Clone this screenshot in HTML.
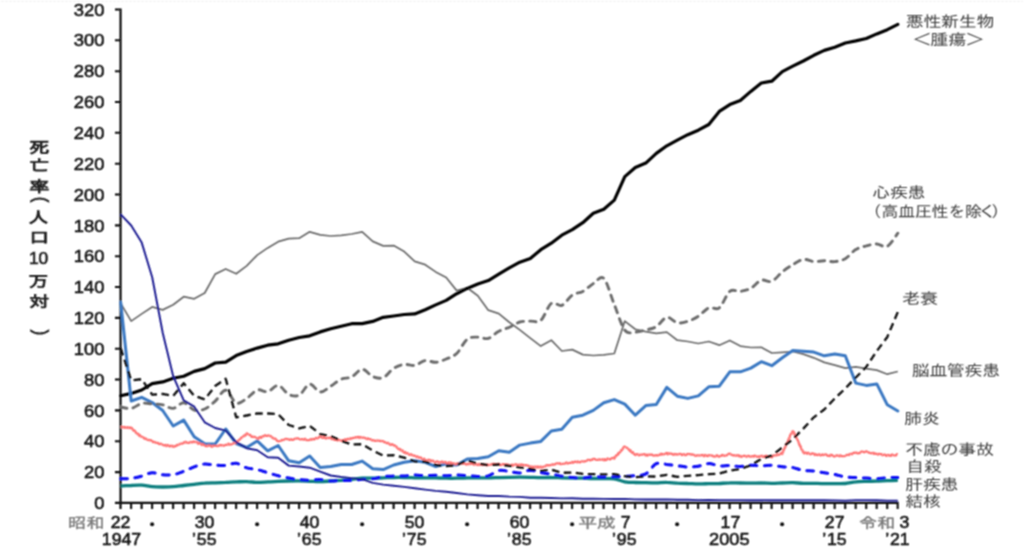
<!DOCTYPE html>
<html lang="ja"><head><meta charset="utf-8"><title>主な死因別にみた死亡率の年次推移</title>
<style>
html,body{margin:0;padding:0;background:#fff;}
body{width:1024px;height:549px;overflow:hidden;}
svg{display:block;}
.lat{font-family:"Liberation Sans", sans-serif;}
.cjk{font-family:"Liberation Sans", "IPAGothic", sans-serif;}
path{fill:none;stroke-linejoin:round;}
</style></head><body>
<svg width="1024" height="549" viewBox="0 0 1024 549">
<defs><filter id="bl" x="-5%" y="-5%" width="110%" height="110%"><feConvolveMatrix order="3" kernelMatrix="1 2 1 2 4 2 1 2 1" divisor="16" edgeMode="duplicate" preserveAlpha="false"/></filter></defs>
<rect width="1024" height="549" fill="#fff"/>
<g filter="url(#bl)">

<path d="M1,1.3 H1023" stroke="#f1f1f1" stroke-width="1" stroke-dasharray="2.9 1.1"/>
<path d="M120.55,8.5 V508.9 M114.95,502.9 H898.661 M114.95,502.9 H120.55 M114.95,472.1 H120.55 M114.95,441.2 H120.55 M114.95,410.4 H120.55 M114.95,379.5 H120.55 M114.95,348.7 H120.55 M114.95,317.9 H120.55 M114.95,287.0 H120.55 M114.95,256.2 H120.55 M114.95,225.4 H120.55 M114.95,194.5 H120.55 M114.95,163.7 H120.55 M114.95,132.8 H120.55 M114.95,102.0 H120.55 M114.95,71.2 H120.55 M114.95,40.3 H120.55 M114.95,9.5 H120.55 M120.5,502.9 V508.9 M131.1,502.9 V508.9 M141.6,502.9 V508.9 M152.1,502.9 V508.9 M162.6,502.9 V508.9 M173.1,502.9 V508.9 M183.6,502.9 V508.9 M194.1,502.9 V508.9 M204.6,502.9 V508.9 M215.1,502.9 V508.9 M225.6,502.9 V508.9 M236.1,502.9 V508.9 M246.6,502.9 V508.9 M257.1,502.9 V508.9 M267.6,502.9 V508.9 M278.1,502.9 V508.9 M288.6,502.9 V508.9 M299.1,502.9 V508.9 M309.6,502.9 V508.9 M320.1,502.9 V508.9 M330.6,502.9 V508.9 M341.1,502.9 V508.9 M351.6,502.9 V508.9 M362.1,502.9 V508.9 M372.6,502.9 V508.9 M383.1,502.9 V508.9 M393.6,502.9 V508.9 M404.1,502.9 V508.9 M414.6,502.9 V508.9 M425.1,502.9 V508.9 M435.6,502.9 V508.9 M446.1,502.9 V508.9 M456.6,502.9 V508.9 M467.1,502.9 V508.9 M477.6,502.9 V508.9 M488.1,502.9 V508.9 M498.6,502.9 V508.9 M509.1,502.9 V508.9 M519.6,502.9 V508.9 M530.1,502.9 V508.9 M540.6,502.9 V508.9 M551.1,502.9 V508.9 M561.6,502.9 V508.9 M572.1,502.9 V508.9 M582.6,502.9 V508.9 M593.1,502.9 V508.9 M603.6,502.9 V508.9 M614.1,502.9 V508.9 M624.6,502.9 V508.9 M635.1,502.9 V508.9 M645.6,502.9 V508.9 M656.1,502.9 V508.9 M666.6,502.9 V508.9 M677.1,502.9 V508.9 M687.6,502.9 V508.9 M698.1,502.9 V508.9 M708.6,502.9 V508.9 M719.1,502.9 V508.9 M729.6,502.9 V508.9 M740.1,502.9 V508.9 M750.6,502.9 V508.9 M761.1,502.9 V508.9 M771.6,502.9 V508.9 M782.1,502.9 V508.9 M792.6,502.9 V508.9 M803.1,502.9 V508.9 M813.6,502.9 V508.9 M824.2,502.9 V508.9 M834.7,502.9 V508.9 M845.2,502.9 V508.9 M855.7,502.9 V508.9 M866.2,502.9 V508.9 M876.7,502.9 V508.9 M887.2,502.9 V508.9 M897.7,502.9 V508.9" stroke="#0a0a0a" stroke-width="2.1"/>
<path d="M120.7,303.4 L131.2,321.1 L141.7,313.9 L152.2,306.9 L162.7,309.9 L173.2,304.8 L183.7,296.7 L194.2,298.8 L204.7,293.0 L215.2,274.1 L225.7,269.0 L236.2,273.8 L246.7,265.9 L257.2,255.1 L267.7,247.9 L278.2,241.7 L288.7,238.6 L299.2,238.2 L309.7,231.8 L320.2,234.9 L330.7,236.0 L341.2,235.4 L351.7,234.0 L362.2,231.8 L372.7,241.4 L383.2,245.9 L393.7,245.6 L404.2,251.6 L414.7,261.3 L425.2,264.7 L435.7,271.9 L446.2,277.5 L456.7,290.6 L467.2,287.8 L477.8,295.8 L488.3,310.2 L498.8,313.6 L509.3,322.2 L519.8,329.9 L530.3,338.1 L540.8,346.1 L551.3,340.2 L561.8,351.0 L572.3,349.6 L582.8,354.6 L593.3,355.5 L603.8,354.9 L614.3,353.5 L624.8,321.1 L635.3,329.3 L645.8,331.7 L656.3,333.3 L666.8,332.1 L677.3,340.2 L687.8,341.5 L698.3,343.5 L708.8,341.5 L719.3,345.2 L729.8,340.5 L740.3,346.1 L750.8,347.5 L761.3,347.3 L771.8,353.0 L782.3,352.3 L792.8,351.5 L803.3,354.1 L813.8,357.8 L824.3,362.4 L834.8,365.1 L845.3,368.1 L855.8,366.9 L866.3,368.6 L876.8,370.1 L887.3,374.2 L897.8,371.5" stroke="#6c6c6c" stroke-width="1.75"/>
<path d="M120.7,395.7 L131.2,393.4 L141.7,390.0 L152.2,383.6 L162.7,381.9 L173.2,378.2 L183.7,376.2 L194.2,371.4 L204.7,368.6 L215.2,363.0 L225.7,362.1 L236.2,355.6 L246.7,351.5 L257.2,348.1 L267.7,345.2 L278.2,343.8 L288.7,340.2 L299.2,337.5 L309.7,335.8 L320.2,331.9 L330.7,328.7 L341.2,326.2 L351.7,323.7 L362.2,323.6 L372.7,321.4 L383.2,317.3 L393.7,316.0 L404.2,314.5 L414.7,313.9 L425.2,309.7 L435.7,304.9 L446.2,300.4 L456.7,293.7 L467.2,288.4 L477.8,284.0 L488.3,280.6 L498.8,274.2 L509.3,267.8 L519.8,262.2 L530.3,258.5 L540.8,249.7 L551.3,243.2 L561.8,235.2 L572.3,229.7 L582.8,222.7 L593.3,213.3 L603.8,209.3 L614.3,200.1 L624.8,176.6 L635.3,167.5 L645.8,163.1 L656.3,153.4 L666.8,145.8 L677.3,140.2 L687.8,134.7 L698.3,130.2 L708.8,124.5 L719.3,111.4 L729.8,104.6 L740.3,100.5 L750.8,91.4 L761.3,83.0 L771.8,81.2 L782.3,71.6 L792.8,66.2 L803.3,61.0 L813.8,55.3 L824.3,50.4 L834.8,47.3 L845.3,43.0 L855.8,40.9 L866.3,38.5 L876.8,33.9 L887.3,29.7 L897.8,24.3" stroke="#000" stroke-width="3.2" stroke-linecap="round"/>
<path d="M120.7,302.3 L131.2,401.0 L141.7,397.3 L152.2,402.5 L162.7,410.5 L173.2,426.0 L183.7,420.1 L194.2,436.8 L204.7,443.7 L215.2,444.0 L225.7,429.0 L236.2,443.5 L246.7,447.5 L257.2,440.9 L267.7,450.8 L278.2,445.5 L288.7,460.8 L299.2,462.7 L309.7,456.0 L320.2,467.4 L330.7,466.5 L341.2,464.5 L351.7,464.5 L362.2,461.1 L372.7,468.8 L383.2,469.6 L393.7,465.0 L404.2,462.3 L414.7,460.7 L425.2,462.3 L435.7,466.5 L446.2,463.9 L456.7,465.0 L467.2,459.1 L477.8,458.5 L488.3,456.8 L498.8,450.8 L509.3,452.3 L519.8,445.1 L530.3,443.1 L540.8,441.4 L551.3,431.0 L561.8,429.2 L572.3,417.2 L582.8,415.2 L593.3,410.4 L603.8,402.7 L614.3,399.6 L624.8,404.1 L635.3,415.2 L645.8,405.6 L656.3,404.5 L666.8,387.4 L677.3,396.2 L687.8,398.4 L698.3,395.9 L708.8,386.8 L719.3,386.2 L729.8,371.8 L740.3,371.8 L750.8,368.1 L761.3,361.7 L771.8,365.7 L782.3,357.8 L792.8,350.4 L803.3,351.2 L813.8,352.1 L824.3,355.8 L834.8,354.1 L845.3,355.8 L855.8,383.1 L866.3,385.4 L876.8,383.9 L887.3,404.8 L897.8,411.0" stroke="#3b78c2" stroke-width="3.0" stroke-linecap="round"/>
<path d="M120.7,407.0 C122.5,407.2 127.7,409.0 131.2,408.4 C134.7,407.8 138.2,404.2 141.7,403.4 C145.2,402.7 148.7,403.7 152.2,403.9 C155.7,404.1 159.2,404.1 162.7,404.8 C166.2,405.6 169.7,408.7 173.2,408.4 C176.7,408.0 180.2,402.5 183.7,402.8 C187.2,403.1 190.7,409.0 194.2,410.1 C197.7,411.1 201.2,410.5 204.7,409.0 C208.2,407.5 211.7,404.3 215.2,401.1 C218.7,398.0 222.2,389.9 225.7,390.2 C229.2,390.5 232.7,401.6 236.2,403.0 C239.7,404.4 243.2,400.7 246.7,398.5 C250.2,396.4 253.7,391.2 257.2,390.0 C260.7,388.9 264.2,392.5 267.7,391.7 C271.2,391.0 274.7,385.0 278.2,385.4 C281.7,385.8 285.2,392.7 288.7,394.4 C292.2,396.0 295.7,396.8 299.2,395.1 C302.7,393.4 306.2,384.7 309.7,384.2 C313.2,383.7 316.7,391.7 320.2,392.0 C323.7,392.4 327.2,388.3 330.7,386.2 C334.2,384.0 337.7,380.8 341.2,379.2 C344.7,377.7 348.2,378.6 351.7,376.9 C355.2,375.3 358.7,369.3 362.2,369.2 C365.7,369.1 369.2,375.1 372.7,376.5 C376.2,377.9 379.7,379.1 383.2,377.7 C386.7,376.3 390.2,370.5 393.7,368.3 C397.2,366.1 400.7,364.9 404.2,364.4 C407.7,363.9 411.2,366.0 414.7,365.4 C418.2,364.7 421.7,361.1 425.2,360.6 C428.7,360.1 432.2,362.5 435.7,362.3 C439.2,362.0 442.7,360.5 446.2,359.0 C449.7,357.6 453.2,356.8 456.7,353.5 C460.2,350.2 463.7,341.9 467.2,339.2 C470.8,336.4 474.3,337.3 477.8,337.1 C481.3,337.0 484.8,339.4 488.3,338.4 C491.8,337.4 495.3,333.1 498.8,331.3 C502.3,329.4 505.8,328.8 509.3,327.3 C512.8,325.7 516.3,323.1 519.8,322.0 C523.3,321.0 526.8,321.4 530.3,321.1 C533.8,320.8 537.3,323.3 540.8,320.3 C544.3,317.4 547.8,305.9 551.3,303.4 C554.8,300.9 558.3,306.8 561.8,305.4 C565.3,304.0 568.8,297.4 572.3,295.1 C575.8,292.7 579.3,293.3 582.8,291.4 C586.3,289.4 589.8,285.8 593.3,283.6 C596.8,281.5 600.3,274.9 603.8,278.4 C607.3,281.9 610.8,296.0 614.3,304.6 C617.8,313.2 621.3,325.6 624.8,330.2 C628.3,334.8 631.8,332.1 635.3,332.1 C638.8,332.0 642.3,330.8 645.8,329.9 C649.3,329.0 652.8,328.8 656.3,326.7 C659.8,324.6 663.3,317.9 666.8,317.3 C670.3,316.6 673.8,322.1 677.3,322.8 C680.8,323.5 684.3,322.3 687.8,321.3 C691.3,320.2 694.8,318.6 698.3,316.3 C701.8,314.1 705.3,309.3 708.8,307.8 C712.3,306.4 715.8,310.6 719.3,307.8 C722.8,305.1 726.3,294.1 729.8,291.4 C733.3,288.6 736.8,291.9 740.3,291.4 C743.8,290.8 747.3,290.1 750.8,288.3 C754.3,286.4 757.8,281.4 761.3,280.2 C764.8,279.1 768.3,282.7 771.8,281.3 C775.3,279.9 778.8,274.7 782.3,271.9 C785.8,269.1 789.3,266.8 792.8,264.7 C796.3,262.6 799.8,259.9 803.3,259.4 C806.8,258.9 810.3,261.4 813.8,261.6 C817.3,261.8 820.8,260.8 824.3,260.8 C827.8,260.8 831.3,262.0 834.8,261.6 C838.3,261.2 841.8,260.7 845.3,258.7 C848.8,256.7 852.3,251.7 855.8,249.6 C859.3,247.4 862.8,246.8 866.3,245.9 C869.8,244.9 873.3,243.9 876.8,244.0 C880.3,244.1 883.8,248.1 887.3,246.3 C890.8,244.5 896.1,235.4 897.8,233.2" stroke="#6c6c6c" stroke-width="2.9" stroke-dasharray="6.300 6.237" stroke-linecap="round"/>
<path d="M120.7,485.9 C122.5,485.9 127.7,485.6 131.2,485.5 C134.7,485.3 138.2,485.0 141.7,485.2 C145.2,485.4 148.7,486.4 152.2,486.7 C155.7,487.0 159.2,487.0 162.7,487.0 C166.2,487.0 169.7,487.0 173.2,486.7 C176.7,486.5 180.2,485.9 183.7,485.5 C187.2,485.1 190.7,484.8 194.2,484.4 C197.7,484.0 201.2,483.4 204.7,483.2 C208.2,482.9 211.7,483.0 215.2,482.9 C218.7,482.7 222.2,482.5 225.7,482.4 C229.2,482.2 232.7,482.1 236.2,481.9 C239.7,481.8 243.2,481.5 246.7,481.6 C250.2,481.7 253.7,482.3 257.2,482.4 C260.7,482.4 264.2,482.1 267.7,481.9 C271.2,481.8 274.7,481.5 278.2,481.3 C281.7,481.2 285.2,481.1 288.7,481.0 C292.2,480.9 295.7,480.8 299.2,480.9 C302.7,480.9 306.2,481.2 309.7,481.3 C313.2,481.4 316.7,481.7 320.2,481.6 C323.7,481.6 327.2,481.2 330.7,481.0 C334.2,480.8 337.7,480.6 341.2,480.4 C344.7,480.1 348.2,479.8 351.7,479.5 C355.2,479.1 358.7,478.4 362.2,478.2 C365.7,478.0 369.2,478.3 372.7,478.2 C376.2,478.2 379.7,478.0 383.2,477.9 C386.7,477.8 390.2,477.5 393.7,477.5 C397.2,477.4 400.7,477.4 404.2,477.5 C407.7,477.5 411.2,477.7 414.7,477.8 C418.2,477.8 421.7,477.7 425.2,477.8 C428.7,477.8 432.2,477.8 435.7,477.9 C439.2,478.0 442.7,478.2 446.2,478.2 C449.7,478.3 453.2,478.3 456.7,478.2 C460.2,478.2 463.7,478.0 467.2,477.9 C470.8,477.8 474.3,477.8 477.8,477.8 C481.3,477.8 484.8,477.9 488.3,477.9 C491.8,477.9 495.3,477.7 498.8,477.6 C502.3,477.5 505.8,477.4 509.3,477.3 C512.8,477.2 516.3,477.2 519.8,477.2 C523.3,477.2 526.8,477.2 530.3,477.3 C533.8,477.4 537.3,477.6 540.8,477.6 C544.3,477.6 547.8,477.4 551.3,477.5 C554.8,477.5 558.3,477.7 561.8,477.8 C565.3,477.9 568.8,478.0 572.3,478.1 C575.8,478.2 579.3,478.2 582.8,478.2 C586.3,478.3 589.8,478.5 593.3,478.5 C596.8,478.6 600.3,478.6 603.8,478.7 C607.3,478.7 610.8,478.3 614.3,478.8 C617.8,479.4 621.3,481.2 624.8,481.8 C628.3,482.4 631.8,482.4 635.3,482.5 C638.8,482.7 642.3,482.6 645.8,482.7 C649.3,482.8 652.8,482.9 656.3,482.9 C659.8,482.8 663.3,482.3 666.8,482.4 C670.3,482.4 673.8,483.0 677.3,483.2 C680.8,483.3 684.3,483.3 687.8,483.5 C691.3,483.6 694.8,483.9 698.3,483.9 C701.8,484.0 705.3,483.7 708.8,483.6 C712.3,483.5 715.8,483.6 719.3,483.5 C722.8,483.3 726.3,482.9 729.8,482.9 C733.3,482.8 736.8,483.0 740.3,483.0 C743.8,483.1 747.3,483.2 750.8,483.2 C754.3,483.2 757.8,483.0 761.3,483.0 C764.8,483.0 768.3,483.3 771.8,483.3 C775.3,483.3 778.8,483.1 782.3,483.0 C785.8,482.9 789.3,482.6 792.8,482.7 C796.3,482.8 799.8,483.2 803.3,483.3 C806.8,483.4 810.3,483.3 813.8,483.3 C817.3,483.4 820.8,483.6 824.3,483.6 C827.8,483.7 831.3,483.7 834.8,483.6 C838.3,483.6 841.8,483.8 845.3,483.5 C848.8,483.2 852.3,482.1 855.8,481.8 C859.3,481.4 862.8,481.4 866.3,481.3 C869.8,481.2 873.3,481.3 876.8,481.2 C880.3,481.1 883.8,480.8 887.3,480.7 C890.8,480.6 896.1,480.4 897.8,480.4" stroke="#0b7f7f" stroke-width="3.3"/>
<path d="M120.7,478.7 C122.5,478.6 127.7,478.8 131.2,478.4 C134.7,477.9 138.2,477.0 141.7,476.1 C145.2,475.1 148.7,472.9 152.2,472.7 C155.7,472.5 159.2,474.5 162.7,474.8 C166.2,475.2 169.7,475.2 173.2,474.7 C176.7,474.1 180.2,472.8 183.7,471.4 C187.2,470.1 190.7,468.1 194.2,466.8 C197.7,465.6 201.2,464.3 204.7,464.0 C208.2,463.8 211.7,464.9 215.2,465.1 C218.7,465.4 222.2,465.7 225.7,465.4 C229.2,465.1 232.7,462.9 236.2,463.3 C239.7,463.7 243.2,466.8 246.7,467.9 C250.2,469.0 253.7,468.8 257.2,469.6 C260.7,470.4 264.2,471.7 267.7,472.7 C271.2,473.7 274.7,474.9 278.2,475.8 C281.7,476.7 285.2,477.4 288.7,478.1 C292.2,478.7 295.7,479.3 299.2,479.6 C302.7,480.0 306.2,480.3 309.7,480.2 C313.2,480.2 316.7,479.3 320.2,479.5 C323.7,479.6 327.2,480.8 330.7,481.0 C334.2,481.2 337.7,480.6 341.2,480.5 C344.7,480.5 348.2,480.7 351.7,480.5 C355.2,480.3 358.7,479.6 362.2,479.3 C365.7,479.0 369.2,479.3 372.7,478.8 C376.2,478.4 379.7,477.2 383.2,476.7 C386.7,476.2 390.2,476.2 393.7,476.1 C397.2,475.9 400.7,476.1 404.2,475.9 C407.7,475.8 411.2,475.2 414.7,475.1 C418.2,475.1 421.7,475.7 425.2,475.8 C428.7,475.8 432.2,475.3 435.7,475.3 C439.2,475.3 442.7,475.8 446.2,475.8 C449.7,475.7 453.2,475.2 456.7,475.1 C460.2,475.1 463.7,475.4 467.2,475.6 C470.8,475.8 474.3,476.5 477.8,476.5 C481.3,476.6 484.8,476.9 488.3,475.9 C491.8,474.9 495.3,471.3 498.8,470.5 C502.3,469.8 505.8,471.0 509.3,471.4 C512.8,471.9 516.3,473.2 519.8,473.0 C523.3,472.8 526.8,470.3 530.3,470.2 C533.8,470.2 537.3,472.0 540.8,472.7 C544.3,473.3 547.8,473.5 551.3,474.1 C554.8,474.7 558.3,475.6 561.8,476.2 C565.3,476.8 568.8,477.3 572.3,477.6 C575.8,477.9 579.3,478.2 582.8,478.1 C586.3,477.9 589.8,477.0 593.3,476.8 C596.8,476.7 600.3,477.3 603.8,477.3 C607.3,477.3 610.8,477.0 614.3,476.8 C617.8,476.7 621.3,476.6 624.8,476.4 C628.3,476.1 631.8,475.9 635.3,475.5 C638.8,475.0 642.3,475.9 645.8,473.9 C649.3,472.0 652.8,465.3 656.3,463.7 C659.8,462.1 663.3,464.0 666.8,464.4 C670.3,464.7 673.8,465.3 677.3,465.7 C680.8,466.2 684.3,466.9 687.8,467.0 C691.3,467.1 694.8,466.8 698.3,466.2 C701.8,465.6 705.3,463.6 708.8,463.6 C712.3,463.5 715.8,465.6 719.3,465.9 C722.8,466.2 726.3,465.5 729.8,465.6 C733.3,465.7 736.8,466.4 740.3,466.4 C743.8,466.3 747.3,465.4 750.8,465.3 C754.3,465.2 757.8,465.9 761.3,465.9 C764.8,465.9 768.3,465.1 771.8,465.3 C775.3,465.4 778.8,466.4 782.3,466.8 C785.8,467.2 789.3,467.0 792.8,467.6 C796.3,468.2 799.8,470.0 803.3,470.5 C806.8,471.1 810.3,470.6 813.8,471.0 C817.3,471.4 820.8,472.3 824.3,472.8 C827.8,473.4 831.3,473.7 834.8,474.4 C838.3,475.1 841.8,476.5 845.3,477.0 C848.8,477.5 852.3,477.4 855.8,477.6 C859.3,477.8 862.8,477.9 866.3,478.1 C869.8,478.3 873.3,478.8 876.8,478.7 C880.3,478.6 883.8,477.8 887.3,477.6 C890.8,477.4 896.1,477.5 897.8,477.5" stroke="#0808f4" stroke-width="3.0" stroke-dasharray="6.600 7.709" stroke-linecap="round"/>
<path d="M120.7,427.19 L121.7,427.04 L122.6,426.90 L123.6,427.70 L124.5,426.99 L125.5,427.73 L126.4,427.59 L127.4,427.26 L128.3,427.99 L129.3,427.43 L130.2,428.08 L131.2,427.67 L132.0,428.34 L132.7,429.44 L133.5,430.65 L134.2,430.30 L135.0,431.08 L135.7,432.28 L136.5,433.37 L137.2,433.49 L138.0,433.88 L138.7,435.33 L139.5,434.66 L140.2,436.44 L141.0,436.28 L141.7,436.72 L142.7,437.07 L143.6,437.73 L144.6,438.84 L145.5,438.34 L146.5,439.29 L147.4,439.76 L148.4,439.78 L149.3,440.42 L150.3,440.14 L151.2,440.52 L152.2,441.12 L153.2,442.07 L154.1,441.99 L155.1,442.11 L156.0,442.77 L157.0,442.87 L157.9,442.93 L158.9,443.91 L159.8,444.05 L160.8,443.70 L161.8,444.44 L162.7,444.65 L163.7,445.32 L164.6,445.30 L165.6,444.87 L166.5,446.02 L167.5,444.99 L168.4,445.59 L169.4,446.25 L170.3,445.59 L171.3,446.24 L172.3,445.79 L173.2,446.86 L174.2,446.61 L175.1,445.97 L176.1,446.01 L177.0,444.85 L178.0,445.00 L178.9,444.48 L179.9,444.08 L180.8,443.53 L181.8,443.69 L182.8,443.46 L183.7,442.42 L184.7,442.66 L185.6,441.79 L186.6,442.66 L187.5,442.55 L188.5,443.01 L189.4,442.74 L190.4,441.96 L191.3,442.07 L192.3,442.44 L193.3,441.51 L194.2,442.10 L195.2,441.98 L196.1,442.20 L197.1,442.41 L198.0,443.70 L199.0,443.10 L199.9,443.56 L200.9,444.06 L201.8,445.02 L202.8,444.21 L203.8,445.02 L204.7,445.46 L205.7,446.01 L206.6,446.00 L207.6,446.15 L208.5,445.41 L209.5,445.69 L210.4,445.69 L211.4,446.51 L212.3,446.70 L213.3,445.66 L214.3,445.77 L215.2,445.94 L216.2,445.80 L217.1,446.01 L218.1,446.02 L219.0,445.42 L220.0,444.92 L220.9,445.36 L221.9,445.15 L222.9,445.28 L223.8,445.69 L224.8,445.18 L225.7,444.79 L226.7,444.77 L227.6,444.68 L228.6,443.64 L229.5,444.66 L230.5,444.32 L231.4,444.29 L232.4,444.01 L233.4,443.27 L234.3,443.12 L235.3,442.53 L236.2,443.11 L237.0,441.66 L237.7,441.01 L238.5,440.56 L239.2,439.85 L240.0,439.45 L240.7,438.39 L241.5,437.67 L242.2,437.23 L243.0,436.51 L243.7,436.23 L244.5,435.11 L245.2,435.65 L246.0,434.63 L246.7,433.33 L247.6,433.87 L248.5,434.41 L249.3,434.83 L250.2,434.89 L251.1,436.30 L252.0,436.90 L252.8,436.56 L253.7,436.99 L254.6,436.83 L255.5,437.25 L256.3,437.98 L257.2,438.27 L258.2,438.73 L259.1,437.46 L260.1,436.93 L261.0,437.89 L262.0,436.96 L262.9,436.09 L263.9,436.31 L264.9,435.25 L265.8,435.61 L266.8,435.91 L267.7,435.41 L268.6,435.67 L269.5,435.54 L270.3,436.18 L271.2,436.39 L272.1,437.72 L273.0,437.88 L273.8,438.71 L274.7,438.57 L275.6,438.91 L276.5,440.22 L277.3,440.95 L278.2,441.26 L279.2,441.05 L280.1,440.93 L281.1,440.68 L282.0,439.82 L283.0,440.09 L284.0,439.72 L284.9,439.12 L285.9,438.98 L286.8,439.19 L287.8,439.02 L288.7,439.49 L289.7,439.82 L290.6,439.06 L291.6,439.71 L292.5,439.73 L293.5,439.65 L294.5,438.78 L295.4,438.53 L296.4,438.50 L297.3,438.42 L298.3,438.39 L299.2,438.93 L300.2,439.42 L301.1,439.43 L302.1,439.02 L303.0,439.36 L304.0,439.67 L305.0,438.76 L305.9,439.67 L306.9,440.12 L307.8,440.04 L308.8,440.09 L309.7,439.81 L310.7,439.13 L311.6,439.74 L312.6,438.84 L313.5,439.25 L314.5,439.24 L315.5,438.18 L316.4,437.93 L317.4,438.44 L318.3,437.88 L319.3,436.85 L320.2,436.54 L321.2,436.68 L322.1,437.85 L323.1,437.83 L324.0,437.01 L325.0,438.08 L326.0,438.41 L326.9,438.07 L327.9,437.75 L328.8,438.14 L329.8,437.67 L330.7,437.61 L331.7,439.19 L332.6,438.98 L333.6,439.05 L334.5,439.85 L335.5,439.39 L336.5,440.24 L337.4,440.42 L338.4,439.80 L339.3,440.09 L340.3,440.39 L341.2,440.55 L342.2,440.77 L343.1,440.05 L344.1,440.00 L345.1,439.33 L346.0,440.16 L347.0,439.11 L347.9,438.99 L348.9,438.90 L349.8,439.08 L350.8,438.14 L351.7,438.57 L352.7,437.93 L353.6,437.92 L354.6,437.85 L355.6,437.09 L356.5,437.62 L357.5,437.21 L358.4,436.90 L359.4,437.96 L360.3,437.02 L361.3,437.39 L362.2,437.68 L363.2,437.70 L364.1,437.63 L365.1,438.15 L366.1,438.46 L367.0,439.03 L368.0,438.33 L368.9,439.22 L369.9,439.04 L370.8,439.33 L371.8,440.27 L372.7,440.16 L373.7,440.32 L374.6,440.68 L375.6,440.97 L376.6,440.40 L377.5,440.72 L378.5,440.66 L379.4,440.75 L380.4,441.09 L381.3,440.83 L382.3,441.03 L383.2,441.04 L384.2,442.09 L385.1,442.16 L386.1,442.82 L387.1,443.31 L388.0,442.77 L389.0,443.59 L389.9,444.54 L390.9,444.80 L391.8,444.22 L392.8,444.61 L393.7,445.46 L394.6,445.48 L395.5,446.26 L396.4,446.56 L397.2,447.94 L398.1,448.64 L399.0,449.34 L399.9,448.84 L400.7,450.16 L401.6,450.62 L402.5,450.44 L403.4,452.01 L404.2,452.67 L405.2,452.00 L406.1,453.41 L407.1,453.01 L408.1,453.51 L409.0,454.60 L410.0,454.75 L410.9,454.19 L411.9,454.95 L412.8,455.45 L413.8,455.58 L414.7,455.75 L415.7,456.25 L416.7,457.14 L417.6,456.47 L418.6,457.55 L419.5,457.71 L420.5,457.44 L421.4,458.20 L422.4,458.93 L423.3,459.10 L424.3,458.79 L425.2,460.41 L426.2,460.31 L427.2,460.75 L428.1,459.72 L429.1,460.13 L430.0,459.99 L431.0,461.21 L431.9,460.68 L432.9,460.67 L433.8,461.26 L434.8,462.13 L435.7,462.18 L436.7,461.46 L437.7,461.38 L438.6,462.53 L439.6,462.11 L440.5,462.36 L441.5,461.58 L442.4,461.60 L443.4,462.56 L444.3,462.26 L445.3,461.83 L446.2,463.12 L447.2,462.82 L448.2,463.18 L449.1,462.30 L450.1,463.51 L451.0,462.53 L452.0,463.77 L452.9,463.32 L453.9,463.29 L454.8,463.71 L455.8,464.36 L456.7,463.56 L457.7,463.40 L458.7,463.98 L459.6,463.61 L460.6,463.46 L461.5,463.56 L462.5,463.43 L463.4,463.67 L464.4,463.85 L465.3,463.87 L466.3,464.53 L467.2,463.90 L468.2,464.23 L469.2,463.80 L470.1,464.07 L471.1,463.64 L472.0,463.99 L473.0,463.69 L473.9,464.72 L474.9,464.49 L475.8,464.02 L476.8,464.44 L477.8,465.12 L478.7,463.97 L479.7,464.98 L480.6,464.45 L481.6,464.56 L482.5,465.05 L483.5,464.44 L484.4,464.61 L485.4,464.88 L486.3,465.31 L487.3,464.43 L488.3,465.13 L489.2,464.92 L490.2,464.80 L491.1,464.44 L492.1,464.34 L493.0,463.90 L494.0,463.97 L494.9,463.86 L495.9,464.77 L496.8,464.07 L497.8,463.91 L498.8,463.77 L499.7,464.89 L500.7,464.98 L501.6,464.76 L502.6,464.27 L503.5,464.27 L504.5,464.40 L505.4,464.69 L506.4,464.32 L507.3,464.78 L508.3,464.58 L509.3,465.62 L510.2,465.63 L511.2,465.04 L512.1,464.61 L513.1,465.62 L514.0,464.70 L515.0,464.77 L515.9,464.27 L516.9,464.80 L517.8,464.93 L518.8,464.97 L519.8,464.55 L520.7,465.10 L521.7,464.53 L522.6,465.02 L523.6,464.90 L524.5,465.46 L525.5,465.08 L526.4,465.18 L527.4,465.70 L528.3,465.73 L529.3,466.35 L530.3,466.40 L531.2,466.78 L532.2,466.72 L533.1,466.87 L534.1,467.17 L535.0,466.55 L536.0,466.53 L536.9,467.53 L537.9,466.43 L538.9,467.30 L539.8,467.26 L540.8,466.49 L541.7,467.35 L542.7,467.17 L543.6,466.55 L544.6,466.45 L545.5,466.30 L546.5,465.11 L547.4,465.40 L548.4,465.12 L549.4,465.33 L550.3,465.03 L551.3,464.81 L552.2,464.41 L553.2,464.79 L554.1,464.44 L555.1,464.40 L556.0,463.69 L557.0,463.36 L557.9,463.45 L558.9,463.71 L559.9,463.29 L560.8,464.26 L561.8,463.82 L562.7,463.80 L563.7,463.69 L564.6,463.65 L565.6,463.27 L566.5,462.48 L567.5,463.48 L568.4,463.30 L569.4,462.84 L570.4,462.78 L571.3,462.84 L572.3,461.89 L573.2,462.74 L574.2,461.96 L575.1,461.61 L576.1,461.78 L577.0,462.33 L578.0,461.50 L578.9,462.15 L579.9,462.38 L580.9,461.61 L581.8,461.36 L582.8,461.39 L583.7,461.51 L584.7,461.46 L585.6,461.08 L586.6,460.95 L587.5,459.99 L588.5,459.92 L589.4,459.90 L590.4,460.42 L591.4,459.64 L592.3,459.84 L593.3,458.89 L594.2,458.97 L595.2,459.28 L596.1,459.86 L597.1,459.90 L598.0,459.89 L599.0,459.36 L600.0,459.69 L600.9,459.64 L601.9,459.65 L602.8,459.18 L603.8,460.28 L604.7,459.15 L605.7,460.09 L606.6,459.87 L607.6,458.43 L608.5,458.90 L609.5,459.25 L610.5,459.30 L611.4,458.42 L612.4,458.02 L613.3,457.78 L614.3,458.65 L614.9,456.91 L615.6,456.72 L616.2,455.39 L616.9,455.21 L617.6,455.10 L618.2,453.24 L618.9,453.49 L619.5,452.34 L620.2,452.15 L620.8,451.18 L621.5,449.81 L622.1,450.03 L622.8,448.74 L623.5,447.38 L624.1,446.64 L624.8,446.61 L625.6,447.16 L626.4,447.55 L627.2,447.93 L628.0,448.82 L628.8,449.39 L629.6,450.73 L630.4,450.16 L631.2,451.81 L632.0,452.54 L632.9,452.14 L633.7,453.87 L634.5,454.18 L635.3,455.05 L636.2,454.23 L637.2,454.39 L638.1,454.46 L639.1,455.35 L640.0,454.82 L641.0,454.54 L642.0,454.68 L642.9,454.51 L643.9,454.23 L644.8,454.35 L645.8,455.42 L646.7,454.65 L647.7,455.56 L648.6,454.60 L649.6,454.62 L650.5,454.96 L651.5,454.51 L652.5,454.77 L653.4,455.59 L654.4,455.48 L655.3,455.38 L656.3,455.13 L657.2,455.40 L658.2,455.31 L659.1,454.64 L660.1,454.75 L661.0,453.69 L662.0,454.52 L663.0,454.00 L663.9,454.29 L664.9,454.01 L665.8,453.39 L666.8,452.93 L667.7,454.24 L668.7,453.21 L669.6,453.77 L670.6,453.68 L671.6,453.70 L672.5,454.40 L673.5,454.81 L674.4,453.90 L675.4,454.53 L676.3,454.12 L677.3,454.56 L678.2,454.34 L679.2,454.02 L680.1,454.01 L681.1,454.08 L682.1,455.05 L683.0,454.48 L684.0,454.09 L684.9,455.05 L685.9,455.18 L686.8,454.41 L687.8,453.98 L688.7,454.15 L689.7,454.11 L690.6,454.56 L691.6,454.30 L692.6,454.61 L693.5,454.73 L694.5,455.27 L695.4,455.81 L696.4,455.72 L697.3,455.34 L698.3,455.44 L699.2,455.60 L700.2,455.39 L701.1,455.34 L702.1,454.95 L703.1,455.25 L704.0,456.22 L705.0,455.04 L705.9,455.57 L706.9,455.75 L707.8,456.07 L708.8,455.17 L709.7,455.30 L710.7,455.32 L711.6,455.59 L712.6,455.71 L713.6,456.48 L714.5,456.39 L715.5,456.48 L716.4,455.34 L717.4,455.41 L718.3,456.42 L719.3,456.73 L720.2,455.96 L721.2,455.94 L722.1,454.93 L723.1,455.30 L724.1,455.87 L725.0,455.54 L726.0,455.40 L726.9,455.38 L727.9,454.19 L728.8,453.81 L729.8,453.69 L730.7,454.39 L731.7,454.80 L732.7,455.34 L733.6,455.22 L734.6,455.29 L735.5,455.64 L736.5,455.39 L737.4,455.71 L738.4,455.17 L739.3,456.39 L740.3,455.81 L741.2,456.80 L742.2,456.44 L743.2,455.99 L744.1,455.77 L745.1,455.97 L746.0,456.54 L747.0,456.65 L747.9,455.86 L748.9,455.83 L749.8,456.49 L750.8,456.60 L751.7,456.30 L752.7,456.05 L753.7,456.55 L754.6,455.69 L755.6,456.07 L756.5,456.27 L757.5,456.94 L758.4,456.47 L759.4,456.77 L760.3,456.17 L761.3,455.81 L762.2,455.87 L763.2,456.91 L764.2,456.59 L765.1,456.08 L766.1,455.72 L767.0,456.43 L768.0,456.72 L768.9,456.40 L769.9,456.22 L770.8,456.84 L771.8,457.24 L772.7,455.95 L773.7,455.37 L774.7,455.49 L775.6,455.30 L776.6,455.36 L777.5,454.37 L778.5,454.90 L779.4,454.51 L780.4,453.87 L781.3,453.15 L782.3,453.91 L782.7,452.07 L783.1,451.86 L783.6,450.12 L784.0,449.18 L784.4,449.02 L784.8,447.45 L785.2,447.45 L785.7,445.89 L786.1,444.54 L786.5,443.67 L786.9,443.03 L787.3,442.45 L787.8,441.93 L788.2,439.89 L788.6,439.32 L789.0,438.15 L789.4,438.29 L789.9,436.21 L790.3,435.16 L790.7,434.26 L791.1,433.80 L791.5,433.59 L792.0,432.65 L792.4,431.52 L792.8,430.97 L793.2,431.78 L793.6,431.83 L794.1,432.52 L794.5,434.46 L794.9,435.09 L795.3,434.99 L795.7,436.77 L796.2,437.26 L796.6,438.15 L797.0,438.98 L797.4,439.65 L797.8,440.31 L798.3,441.59 L798.7,442.59 L799.1,444.33 L799.5,444.06 L799.9,446.13 L800.4,445.96 L800.8,447.07 L801.2,448.61 L801.6,449.51 L802.0,449.86 L802.5,450.21 L802.9,451.70 L803.3,452.46 L804.3,453.38 L805.2,452.51 L806.2,452.91 L807.1,453.81 L808.1,452.75 L809.0,453.43 L810.0,454.15 L810.9,454.24 L811.9,453.38 L812.8,453.52 L813.8,453.72 L814.8,454.97 L815.7,454.10 L816.7,454.84 L817.6,455.11 L818.6,454.39 L819.5,454.35 L820.5,455.36 L821.4,454.94 L822.4,454.50 L823.3,455.19 L824.3,454.69 L825.3,454.70 L826.2,454.39 L827.2,455.52 L828.1,455.81 L829.1,455.48 L830.0,455.99 L831.0,454.77 L831.9,455.14 L832.9,455.54 L833.8,456.29 L834.8,456.35 L835.8,455.56 L836.7,455.37 L837.7,455.62 L838.6,455.71 L839.6,456.32 L840.5,455.27 L841.5,456.14 L842.4,456.05 L843.4,456.17 L844.3,456.10 L845.3,455.87 L846.3,455.22 L847.2,454.96 L848.2,454.77 L849.1,455.10 L850.1,453.87 L851.0,453.78 L852.0,454.31 L852.9,453.35 L853.9,452.84 L854.9,452.54 L855.8,453.02 L856.8,452.59 L857.7,453.39 L858.7,453.14 L859.6,453.18 L860.6,452.05 L861.5,451.69 L862.5,451.59 L863.4,452.04 L864.4,452.23 L865.4,451.75 L866.3,451.34 L867.3,451.80 L868.2,452.30 L869.2,452.58 L870.1,452.90 L871.1,453.25 L872.0,453.20 L873.0,452.65 L873.9,453.87 L874.9,453.31 L875.9,453.91 L876.8,453.84 L877.8,454.47 L878.7,453.82 L879.7,454.00 L880.6,454.11 L881.6,454.10 L882.5,455.23 L883.5,454.92 L884.4,454.68 L885.4,454.89 L886.4,455.83 L887.3,455.27 L888.3,454.84 L889.2,455.60 L890.2,455.34 L891.1,455.77 L892.1,454.49 L893.0,454.97 L894.0,455.41 L894.9,455.40 L895.9,455.46 L896.9,454.19 L897.8,454.50" stroke="#ff6464" stroke-width="2.3" stroke-linejoin="miter"/>
<path d="M120.7,427.2 L131.2,428.3 L141.7,437.2 L152.2,441.5 L162.7,444.6 L173.2,446.6 L183.7,442.5 L194.2,442.1 L204.7,445.4 L215.2,446.3 L225.7,444.8 L236.2,442.9 L246.7,433.8 L257.2,438.6 L267.7,434.9 L278.2,440.8 L288.7,439.2 L299.2,438.8 L309.7,439.8 L320.2,437.1 L330.7,438.3 L341.2,440.9 L351.7,438.0 L362.2,437.4 L372.7,440.1 L383.2,441.1 L393.7,445.5 L404.2,452.0 L414.7,456.2 L425.2,459.7 L435.7,461.7 L446.2,462.5 L456.7,463.9 L467.2,464.2 L477.8,464.5 L488.3,464.7 L498.8,464.4 L509.3,465.0 L519.8,465.0 L530.3,466.4 L540.8,467.1 L551.3,464.4 L561.8,463.7 L572.3,462.5 L582.8,461.4 L593.3,459.6 L603.8,459.7 L614.3,458.0 L624.8,446.6 L635.3,454.5 L645.8,454.9 L656.3,454.9 L666.8,453.6 L677.3,454.5 L687.8,454.5 L698.3,455.6 L708.8,455.6 L719.3,456.2 L729.8,454.2 L740.3,456.2 L750.8,456.5 L761.3,456.2 L771.8,456.6 L782.3,453.3 L792.8,430.3 L803.3,452.6 L813.8,454.3 L824.3,454.9 L834.8,455.7 L845.3,455.7 L855.8,452.9 L866.3,451.7 L876.8,454.0 L887.3,455.3 L897.8,454.8" stroke="#fff" stroke-width="1.3" stroke-dasharray="0.8 1.7" opacity="0.55"/>
<path d="M120.7,214.3 L131.2,225.5 L141.7,242.6 L152.2,277.2 L162.7,332.8 L173.2,376.2 L183.7,400.4 L194.2,406.7 L204.7,422.3 L215.2,428.0 L225.7,430.6 L236.2,442.1 L246.7,448.2 L257.2,450.2 L267.7,457.3 L278.2,457.7 L288.7,465.6 L299.2,466.5 L309.7,467.7 L320.2,471.6 L330.7,475.5 L341.2,477.0 L351.7,478.1 L362.2,479.2 L372.7,482.9 L383.2,484.6 L393.7,485.8 L404.2,486.9 L414.7,488.3 L425.2,489.6 L435.7,490.9 L446.2,491.8 L456.7,493.0 L467.2,494.4 L477.8,495.2 L488.3,496.0 L498.8,496.0 L509.3,496.6 L519.8,496.9 L530.3,497.7 L540.8,497.8 L551.3,498.0 L561.8,498.4 L572.3,498.3 L582.8,498.7 L593.3,498.7 L603.8,498.9 L614.3,499.0 L624.8,498.9 L635.3,499.4 L645.8,499.5 L656.3,499.5 L666.8,499.4 L677.3,499.7 L687.8,499.8 L698.3,500.1 L708.8,500.0 L719.3,500.1 L729.8,500.1 L740.3,500.1 L750.8,500.3 L761.3,500.1 L771.8,500.3 L782.3,500.3 L792.8,500.3 L803.3,500.3 L813.8,500.3 L824.3,500.3 L834.8,500.4 L845.3,500.6 L855.8,500.1 L866.3,500.1 L876.8,500.3 L887.3,500.6 L897.8,500.6" stroke="#1c1c92" stroke-width="1.95"/>
<path d="M120.7,348.2 L131.2,380.3 L141.7,379.2 L152.2,394.7 L162.7,393.9 L173.2,396.0 L183.7,383.2 L194.2,395.7 L204.7,399.4 L215.2,386.0 L225.7,378.8 L236.2,417.3 L246.7,415.5 L257.2,413.5 L267.7,413.5 L278.2,414.2 L288.7,425.0 L299.2,428.3 L309.7,425.8 L320.2,434.1 L330.7,436.0 L341.2,440.8 L351.7,444.5 L362.2,444.2 L372.7,450.5 L383.2,455.6 L393.7,455.1 L404.2,457.7 L414.7,461.4 L425.2,461.9 L435.7,465.0 L446.2,466.0 L456.7,465.3 L467.2,460.3 L477.8,463.6 L488.3,465.1 L498.8,464.5 L509.3,465.9 L519.8,467.3 L530.3,469.0 L540.8,470.8 L551.3,469.7 L561.8,472.8 L572.3,472.5 L582.8,473.9 L593.3,474.2 L603.8,474.4 L614.3,474.1 L624.8,476.2 L635.3,477.2 L645.8,476.4 L656.3,476.5 L666.8,474.8 L677.3,476.8 L687.8,475.8 L698.3,475.1 L708.8,474.2 L719.3,473.6 L729.8,470.7 L740.3,469.0 L750.8,465.3 L761.3,458.8 L771.8,455.6 L782.3,447.5 L792.8,439.1 L803.3,428.6 L813.8,417.3 L824.3,409.5 L834.8,398.5 L845.3,388.5 L855.8,377.5 L866.3,366.9 L876.8,351.0 L887.3,337.0 L897.8,312.0" stroke="#0a0a0a" stroke-width="2.3" stroke-dasharray="7.500 4.570"/>
<text class="lat" transform="translate(104.5,509.0) scale(1.095,1)" font-size="16.8" text-anchor="end" fill="#0c0c0c" stroke="#0c0c0c" stroke-width="0.5">0</text>
<text class="lat" transform="translate(104.5,478.2) scale(1.095,1)" font-size="16.8" text-anchor="end" fill="#0c0c0c" stroke="#0c0c0c" stroke-width="0.5">20</text>
<text class="lat" transform="translate(104.5,447.3) scale(1.095,1)" font-size="16.8" text-anchor="end" fill="#0c0c0c" stroke="#0c0c0c" stroke-width="0.5">40</text>
<text class="lat" transform="translate(104.5,416.5) scale(1.095,1)" font-size="16.8" text-anchor="end" fill="#0c0c0c" stroke="#0c0c0c" stroke-width="0.5">60</text>
<text class="lat" transform="translate(104.5,385.6) scale(1.095,1)" font-size="16.8" text-anchor="end" fill="#0c0c0c" stroke="#0c0c0c" stroke-width="0.5">80</text>
<text class="lat" transform="translate(104.5,354.8) scale(1.095,1)" font-size="16.8" text-anchor="end" fill="#0c0c0c" stroke="#0c0c0c" stroke-width="0.5">100</text>
<text class="lat" transform="translate(104.5,324.0) scale(1.095,1)" font-size="16.8" text-anchor="end" fill="#0c0c0c" stroke="#0c0c0c" stroke-width="0.5">120</text>
<text class="lat" transform="translate(104.5,293.1) scale(1.095,1)" font-size="16.8" text-anchor="end" fill="#0c0c0c" stroke="#0c0c0c" stroke-width="0.5">140</text>
<text class="lat" transform="translate(104.5,262.3) scale(1.095,1)" font-size="16.8" text-anchor="end" fill="#0c0c0c" stroke="#0c0c0c" stroke-width="0.5">160</text>
<text class="lat" transform="translate(104.5,231.5) scale(1.095,1)" font-size="16.8" text-anchor="end" fill="#0c0c0c" stroke="#0c0c0c" stroke-width="0.5">180</text>
<text class="lat" transform="translate(104.5,200.6) scale(1.095,1)" font-size="16.8" text-anchor="end" fill="#0c0c0c" stroke="#0c0c0c" stroke-width="0.5">200</text>
<text class="lat" transform="translate(104.5,169.8) scale(1.095,1)" font-size="16.8" text-anchor="end" fill="#0c0c0c" stroke="#0c0c0c" stroke-width="0.5">220</text>
<text class="lat" transform="translate(104.5,138.9) scale(1.095,1)" font-size="16.8" text-anchor="end" fill="#0c0c0c" stroke="#0c0c0c" stroke-width="0.5">240</text>
<text class="lat" transform="translate(104.5,108.1) scale(1.095,1)" font-size="16.8" text-anchor="end" fill="#0c0c0c" stroke="#0c0c0c" stroke-width="0.5">260</text>
<text class="lat" transform="translate(104.5,77.3) scale(1.095,1)" font-size="16.8" text-anchor="end" fill="#0c0c0c" stroke="#0c0c0c" stroke-width="0.5">280</text>
<text class="lat" transform="translate(104.5,46.4) scale(1.095,1)" font-size="16.8" text-anchor="end" fill="#0c0c0c" stroke="#0c0c0c" stroke-width="0.5">300</text>
<text class="lat" transform="translate(104.5,15.6) scale(1.095,1)" font-size="16.8" text-anchor="end" fill="#0c0c0c" stroke="#0c0c0c" stroke-width="0.5">320</text>
<text class="lat" transform="translate(120.5,528.0) scale(1.055,1)" font-size="16.8" text-anchor="middle" fill="#0c0c0c" stroke="#0c0c0c" stroke-width="0.5">22</text>
<text class="lat" transform="translate(204.6,528.0) scale(1.055,1)" font-size="16.8" text-anchor="middle" fill="#0c0c0c" stroke="#0c0c0c" stroke-width="0.5">30</text>
<text class="lat" transform="translate(309.6,528.0) scale(1.055,1)" font-size="16.8" text-anchor="middle" fill="#0c0c0c" stroke="#0c0c0c" stroke-width="0.5">40</text>
<text class="lat" transform="translate(414.6,528.0) scale(1.055,1)" font-size="16.8" text-anchor="middle" fill="#0c0c0c" stroke="#0c0c0c" stroke-width="0.5">50</text>
<text class="lat" transform="translate(519.6,528.0) scale(1.055,1)" font-size="16.8" text-anchor="middle" fill="#0c0c0c" stroke="#0c0c0c" stroke-width="0.5">60</text>
<text class="lat" transform="translate(625.6,528.0) scale(1.055,1)" font-size="16.8" text-anchor="middle" fill="#0c0c0c" stroke="#0c0c0c" stroke-width="0.5">7</text>
<text class="lat" transform="translate(730.4,528.0) scale(1.055,1)" font-size="16.8" text-anchor="middle" fill="#0c0c0c" stroke="#0c0c0c" stroke-width="0.5">17</text>
<text class="lat" transform="translate(834.7,528.0) scale(1.055,1)" font-size="16.8" text-anchor="middle" fill="#0c0c0c" stroke="#0c0c0c" stroke-width="0.5">27</text>
<text class="lat" transform="translate(904.5,528.0) scale(1.055,1)" font-size="16.8" text-anchor="middle" fill="#0c0c0c" stroke="#0c0c0c" stroke-width="0.5">3</text>
<text class="lat" transform="translate(121.5,544.6) scale(1.055,1)" font-size="16.8" text-anchor="middle" fill="#0c0c0c" stroke="#0c0c0c" stroke-width="0.5">1947</text>
<text class="lat" transform="translate(206.7,544.6) scale(1.055,1)" font-size="16.8" text-anchor="middle" fill="#0c0c0c" stroke="#0c0c0c" stroke-width="0.5">55</text>
<text class="lat" transform="translate(194.0,544.6) scale(1.055,1)" font-size="16.8" text-anchor="middle" fill="#0c0c0c" stroke="#0c0c0c" stroke-width="0.5">’</text>
<text class="lat" transform="translate(311.7,544.6) scale(1.055,1)" font-size="16.8" text-anchor="middle" fill="#0c0c0c" stroke="#0c0c0c" stroke-width="0.5">65</text>
<text class="lat" transform="translate(299.0,544.6) scale(1.055,1)" font-size="16.8" text-anchor="middle" fill="#0c0c0c" stroke="#0c0c0c" stroke-width="0.5">’</text>
<text class="lat" transform="translate(416.7,544.6) scale(1.055,1)" font-size="16.8" text-anchor="middle" fill="#0c0c0c" stroke="#0c0c0c" stroke-width="0.5">75</text>
<text class="lat" transform="translate(404.0,544.6) scale(1.055,1)" font-size="16.8" text-anchor="middle" fill="#0c0c0c" stroke="#0c0c0c" stroke-width="0.5">’</text>
<text class="lat" transform="translate(521.7,544.6) scale(1.055,1)" font-size="16.8" text-anchor="middle" fill="#0c0c0c" stroke="#0c0c0c" stroke-width="0.5">85</text>
<text class="lat" transform="translate(509.0,544.6) scale(1.055,1)" font-size="16.8" text-anchor="middle" fill="#0c0c0c" stroke="#0c0c0c" stroke-width="0.5">’</text>
<text class="lat" transform="translate(626.7,544.6) scale(1.055,1)" font-size="16.8" text-anchor="middle" fill="#0c0c0c" stroke="#0c0c0c" stroke-width="0.5">95</text>
<text class="lat" transform="translate(614.0,544.6) scale(1.055,1)" font-size="16.8" text-anchor="middle" fill="#0c0c0c" stroke="#0c0c0c" stroke-width="0.5">’</text>
<text class="lat" transform="translate(729.3,544.6) scale(1.085,1)" font-size="16.8" text-anchor="middle" fill="#0c0c0c" stroke="#0c0c0c" stroke-width="0.5">2005</text>
<text class="lat" transform="translate(836.8,544.6) scale(1.055,1)" font-size="16.8" text-anchor="middle" fill="#0c0c0c" stroke="#0c0c0c" stroke-width="0.5">15</text>
<text class="lat" transform="translate(824.1,544.6) scale(1.055,1)" font-size="16.8" text-anchor="middle" fill="#0c0c0c" stroke="#0c0c0c" stroke-width="0.5">’</text>
<text class="lat" transform="translate(899.8,544.6) scale(1.055,1)" font-size="16.8" text-anchor="middle" fill="#0c0c0c" stroke="#0c0c0c" stroke-width="0.5">21</text>
<text class="lat" transform="translate(887.1,544.6) scale(1.055,1)" font-size="16.8" text-anchor="middle" fill="#0c0c0c" stroke="#0c0c0c" stroke-width="0.5">’</text>
<circle cx="152.1" cy="524.3" r="2.0" fill="#111"/>
<circle cx="257.1" cy="524.3" r="2.0" fill="#111"/>
<circle cx="362.1" cy="524.3" r="2.0" fill="#111"/>
<circle cx="467.1" cy="524.3" r="2.0" fill="#111"/>
<circle cx="572.1" cy="524.3" r="2.0" fill="#111"/>
<circle cx="677.1" cy="524.3" r="2.0" fill="#111"/>
<circle cx="782.1" cy="524.3" r="2.0" fill="#111"/>
<text class="cjk" transform="translate(86.2,528.3) scale(1.25,1)" font-size="14.5" text-anchor="middle" fill="#777" stroke="#777" stroke-width="0.35">昭和</text>
<text class="cjk" transform="translate(597.0,528.3) scale(1.3,1)" font-size="14.5" text-anchor="middle" fill="#777" stroke="#777" stroke-width="0.35">平成</text>
<text class="cjk" transform="translate(877.0,528.3) scale(1.25,1)" font-size="14.5" text-anchor="middle" fill="#777" stroke="#777" stroke-width="0.35">令和</text>
<text class="cjk" transform="translate(905.7,26.85) scale(1.159,1)" font-size="15.5" letter-spacing="-0.23" fill="#3a3a3a">悪性新生物</text>
<text class="cjk" transform="translate(912.9,45.05) scale(1.159,1)" font-size="15.5" letter-spacing="-0.23" fill="#3a3a3a">＜腫瘍＞</text>
<text class="cjk" transform="translate(872.2,198.45) scale(1.159,1)" font-size="15.5" letter-spacing="-0.23" fill="#3a3a3a">心疾患</text>
<text class="cjk" transform="translate(864.8,217.05) scale(1.094,1)" font-size="15.5" letter-spacing="-0.23" fill="#3a3a3a">（高血圧性を除</text>
<text class="cjk" transform="translate(976.4,217.05) scale(1.408,1)" font-size="15.5" letter-spacing="-0.23" fill="#3a3a3a">く</text>
<text class="cjk" transform="translate(991.0,217.05) scale(1.094,1)" font-size="15.5" letter-spacing="-0.23" fill="#3a3a3a">）</text>
<text class="cjk" transform="translate(902.2,303.75) scale(1.159,1)" font-size="15.5" letter-spacing="-0.23" fill="#3a3a3a">老衰</text>
<text class="cjk" transform="translate(912.0,375.75) scale(1.149,1)" font-size="15.5" letter-spacing="-0.23" fill="#3a3a3a">脳血管疾患</text>
<text class="cjk" transform="translate(904.2,423.75) scale(1.159,1)" font-size="15.5" letter-spacing="-0.23" fill="#3a3a3a">肺炎</text>
<text class="cjk" transform="translate(905.2,454.95) scale(1.159,1)" font-size="15.5" letter-spacing="-0.23" fill="#3a3a3a">不慮の事故</text>
<text class="cjk" transform="translate(906.2,472.25) scale(1.159,1)" font-size="15.5" letter-spacing="-0.23" fill="#3a3a3a">自殺</text>
<text class="cjk" transform="translate(905.2,489.95) scale(1.159,1)" font-size="15.5" letter-spacing="-0.23" fill="#3a3a3a">肝疾患</text>
<text class="cjk" transform="translate(905.2,506.95) scale(1.159,1)" font-size="15.5" letter-spacing="-0.23" fill="#3a3a3a">結核</text>
<text class="cjk" transform="translate(39.3,153.4) scale(1.3,1)" font-size="15.5" text-anchor="middle" fill="#1c1c1c" stroke="#1c1c1c" stroke-width="0.75">死</text>
<text class="cjk" transform="translate(39.3,171.2) scale(1.3,1)" font-size="15.5" text-anchor="middle" fill="#1c1c1c" stroke="#1c1c1c" stroke-width="0.75">亡</text>
<text class="cjk" transform="translate(39.3,192.0) scale(1.3,1)" font-size="15.5" text-anchor="middle" fill="#1c1c1c" stroke="#1c1c1c" stroke-width="0.75">率</text>
<text class="cjk" transform="translate(39.3,200.1) scale(1.3,1) rotate(90)" x="-4.5" y="5.4" font-size="15.5" text-anchor="middle" fill="#1c1c1c" stroke="#1c1c1c" stroke-width="0.75">（</text>
<text class="cjk" transform="translate(38.4,223.3) scale(1.3,1)" font-size="15.5" text-anchor="middle" fill="#1c1c1c" stroke="#1c1c1c" stroke-width="0.75">人</text>
<text class="cjk" transform="translate(39.3,243.1) scale(1.3,1)" font-size="15.5" text-anchor="middle" fill="#1c1c1c" stroke="#1c1c1c" stroke-width="0.75">口</text>
<text class="lat" transform="translate(38.6,264.0) scale(1.1,1)" font-size="15.8" text-anchor="middle" fill="#1c1c1c" stroke="#1c1c1c" stroke-width="0.6">10</text>
<text class="cjk" transform="translate(38.4,287.3) scale(1.3,1)" font-size="15.5" text-anchor="middle" fill="#1c1c1c" stroke="#1c1c1c" stroke-width="0.75">万</text>
<text class="cjk" transform="translate(39.3,307.2) scale(1.3,1)" font-size="15.5" text-anchor="middle" fill="#1c1c1c" stroke="#1c1c1c" stroke-width="0.75">対</text>
<text class="cjk" transform="translate(39.3,330.8) scale(1.3,1) rotate(90)" x="5.8" y="5.4" font-size="15.5" text-anchor="middle" fill="#1c1c1c" stroke="#1c1c1c" stroke-width="0.75">）</text>
</g></svg></body></html>
